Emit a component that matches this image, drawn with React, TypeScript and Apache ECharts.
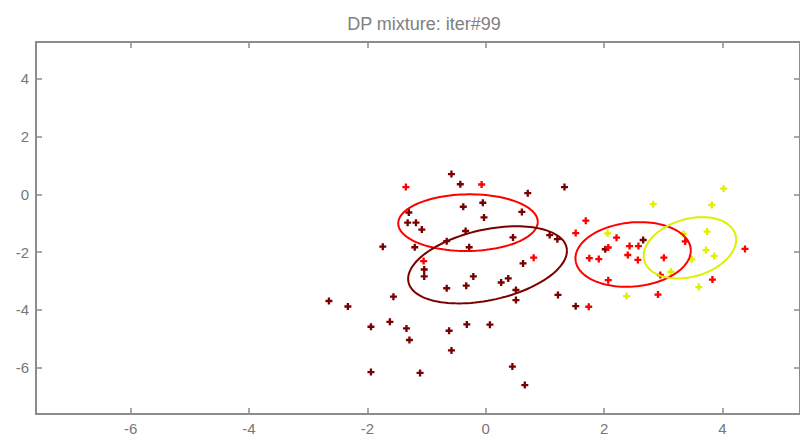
import React, { useEffect, useRef } from "react";
import * as echarts from "echarts";

const TITLE = "DP mixture: iter#99";
const TICKS = [-6, -4, -2, 0, 2, 4];
const X_RANGE = [-7.6, 5.31];
const Y_RANGE = [-7.6, 5.27];

const maroonPoints: number[][] = [
  [-0.58, 0.7], [-0.43, 0.35], [0.71, 0.04], [1.33, 0.25], [-0.05, -0.29],
  [-0.38, -0.43], [0.61, -0.61], [-1.3, -0.63], [-1.32, -0.98], [-1.18, -0.98],
  [-1.08, -1.22], [-0.03, -0.8], [-0.34, -1.27], [0.46, -1.49], [1.08, -1.41],
  [1.21, -1.55], [-0.66, -1.62], [-1.74, -1.81], [-1.2, -1.83], [-0.28, -1.83],
  [0.63, -2.39], [-1.04, -2.6], [-1.04, -2.84], [-0.21, -2.84], [0.38, -2.91],
  [0.26, -3.05], [-0.66, -3.25], [-0.33, -3.16], [0.51, -3.31], [0.51, -3.66],
  [1.22, -3.48], [-1.56, -3.54], [-2.65, -3.69], [-2.33, -3.88], [1.52, -3.87],
  [-1.62, -4.41], [-1.94, -4.58], [-1.34, -4.64], [-1.29, -5.04], [-0.62, -4.72],
  [-0.32, -4.5], [0.07, -4.51], [-0.58, -5.4], [-1.94, -6.15], [-1.11, -6.18],
  [0.45, -5.96], [0.66, -6.6], [2.02, -1.9], [2.66, -1.58],
];

const redPoints: number[][] = [
  [-1.35, 0.25], [-0.07, 0.34], [0.81, -2.19], [-1.05, -2.31], [1.69, -0.91],
  [1.52, -1.34], [2.21, -1.5], [2.43, -1.79], [2.58, -1.79], [2.07, -1.84],
  [2.4, -2.1], [1.75, -2.21], [1.91, -2.24], [2.57, -2.27], [3.01, -2.19],
  [2.07, -2.97], [2.91, -3.47], [1.74, -3.89], [3.37, -1.63], [4.38, -1.89],
  [3.83, -2.95], [2.95, -2.79],
];

const yellowPoints: number[][] = [
  [2.83, -0.34], [4.02, 0.2], [3.82, -0.37], [2.06, -1.35], [3.74, -1.29],
  [3.72, -1.93], [3.86, -2.13], [3.48, -2.25], [3.13, -2.68], [3.6, -3.21],
  [2.38, -3.52], [3.34, -1.37],
];

// ellipse parameters: center [x, y] and spread [sxx, sxy, syy]
const ellipseCenters: number[][] = [[-0.3, -0.98], [0.03, -2.44], [2.49, -2.08], [3.45, -1.85]];
const ellipseSpreads: number[][] = [[1.39, 0.03, 0.96], [1.8, 0.65, 1.78], [0.95, 0.13, 1.25], [0.61, 0.22, 1.124]];
const ellipseColors = ["#ff0000", "#7a0000", "#ff0000", "#dcf000"];

const COLORS = { maroon: "#7a0000", red: "#ff0000", yellow: "#dcf000" };
const AXIS_COLOR = "#8c8c8c";
const FONT = "Liberation Sans, Arial, sans-serif";
const PLUS = "path://M2,0H4V2H6V4H4V6H2V4H0V2H2Z";

function ellipsePoints(c: number[], s: number[]): number[][] {
  const l11 = Math.sqrt(s[0]);
  const l21 = s[1] / l11;
  const l22 = Math.sqrt(Math.max(s[2] - l21 * l21, 0));
  const pts: number[][] = [];
  const n = 120;
  for (let i = 0; i <= n; i++) {
    const t = (i / n) * Math.PI * 2;
    pts.push([c[0] + l11 * Math.cos(t), c[1] + l21 * Math.cos(t) + l22 * Math.sin(t)]);
  }
  return pts;
}

function makeAxis(position: string, range: number[], showLabel: boolean, margin: number) {
  return {
    type: "value",
    position,
    min: range[0],
    max: range[1],
    axisLine: { show: true, onZero: false, lineStyle: { color: AXIS_COLOR, width: 2 } },
    axisTick: {
      show: true,
      inside: true,
      length: 6,
      customValues: TICKS,
      lineStyle: { color: AXIS_COLOR, width: 1.5 },
    },
    axisLabel: {
      show: showLabel,
      customValues: TICKS,
      color: "#777",
      fontSize: 15,
      fontFamily: FONT,
      margin,
    },
    splitLine: { show: false },
  };
}

export default function App() {
  const ref = useRef<HTMLDivElement>(null);
  useEffect(() => {
    const chart = echarts.init(ref.current!, null, { renderer: "svg" });
    const scatter = (data: number[][], color: string) => ({
      type: "scatter",
      data,
      symbol: PLUS,
      symbolSize: 7,
      itemStyle: { color, opacity: 1 },
      silent: true,
      z: 2,
    });
    const ellipses = ellipseCenters.map((c, i) => ({
      type: "line",
      data: ellipsePoints(c, ellipseSpreads[i]),
      showSymbol: false,
      smooth: false,
      silent: true,
      lineStyle: { color: ellipseColors[i], width: 2 },
      z: 3,
    }));
    chart.setOption({
      animation: false,
      backgroundColor: "#ffffff",
      title: {
        text: TITLE,
        left: 419,
        textAlign: "center",
        top: 10,
        textStyle: { color: "#808080", fontSize: 18, fontWeight: "normal", fontFamily: FONT },
      },
      grid: { left: 36, top: 42, right: -1, bottom: 25, containLabel: false },
      xAxis: [makeAxis("bottom", X_RANGE, true, 7), makeAxis("top", X_RANGE, false, 7)],
      yAxis: [makeAxis("left", Y_RANGE, true, 7), makeAxis("right", Y_RANGE, false, 7)],
      series: [
        scatter(maroonPoints, COLORS.maroon),
        scatter(redPoints, COLORS.red),
        scatter(yellowPoints, COLORS.yellow),
        ...ellipses,
      ],
    });
    return () => chart.dispose();
  }, []);
  return (
    <div
      ref={ref}
      style={{ position: "absolute", left: 0, top: 0, width: 800, height: 439 }}
    />
  );
}
